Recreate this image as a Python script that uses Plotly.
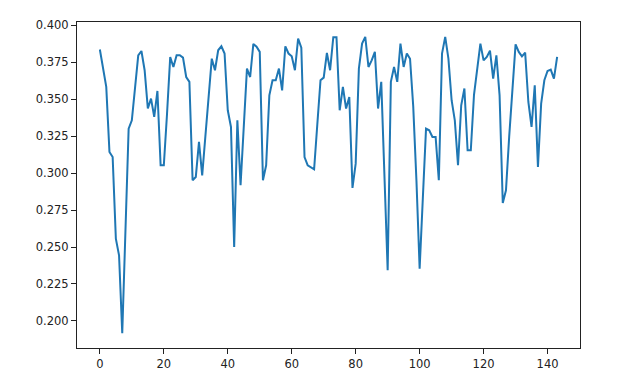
import plotly.graph_objects as go

values = [
    0.3836, 0.371, 0.3583, 0.3143, 0.3109, 0.2557, 0.2444, 0.1917, 0.262, 0.3301,
    0.3357, 0.3606, 0.3797, 0.3826, 0.3696, 0.3437, 0.3504, 0.3380, 0.3556, 0.3053,
    0.3053, 0.340, 0.3785, 0.3718, 0.3797, 0.3797, 0.3781, 0.3650, 0.3617, 0.2952,
    0.2974, 0.3211, 0.2985, 0.325, 0.351, 0.3774, 0.3696, 0.3831, 0.3858, 0.3809,
    0.3425, 0.3312, 0.2500, 0.3357, 0.2918, 0.331, 0.3707, 0.3650, 0.3874, 0.3855,
    0.3820, 0.2951, 0.3053, 0.3526, 0.3628, 0.3628, 0.3707, 0.3560, 0.3858, 0.3809,
    0.3790, 0.3696, 0.3910, 0.3849, 0.3109, 0.3053, 0.3042, 0.3026, 0.333, 0.3628,
    0.3646, 0.3813, 0.3696, 0.3919, 0.3919, 0.3425, 0.3583, 0.3437, 0.3515, 0.290,
    0.3064, 0.3707, 0.3876, 0.3922, 0.3718, 0.3763, 0.3820, 0.3437, 0.3617, 0.298,
    0.2343, 0.3617, 0.3718, 0.3617, 0.3876, 0.3718, 0.3809, 0.3774, 0.345, 0.295,
    0.2354, 0.283, 0.3301, 0.3290, 0.3245, 0.3245, 0.2952, 0.3809, 0.3922, 0.3774,
    0.3493, 0.3357, 0.3053, 0.3459, 0.3572, 0.3155, 0.3155, 0.353, 0.3718, 0.3876,
    0.3763, 0.3786, 0.3828, 0.3639, 0.3797, 0.3526, 0.2798, 0.2884, 0.3245, 0.3583,
    0.3871, 0.3820, 0.3790, 0.3815, 0.3481, 0.3312, 0.3594, 0.3042, 0.3470, 0.3628,
    0.3691, 0.3700, 0.3639, 0.3786,
]
index = list(range(len(values)))

x_ticks = [0, 20, 40, 60, 80, 100, 120, 140]
y_ticks = [0.200, 0.225, 0.250, 0.275, 0.300, 0.325, 0.350, 0.375, 0.400]

# matplotlib-like autoscale with 5% margins
n_max = index[-1]
xr = [-0.05 * n_max, 1.05 * n_max]
vmin, vmax = min(values), max(values)
span = vmax - vmin
yr = [vmin - 0.05 * span, vmax + 0.05 * span]

fig = go.Figure()
fig.add_trace(go.Scatter(
    x=index, y=values, mode="lines",
    line=dict(color="#1f77b4", width=2),
    hoverinfo="skip",
))

axis_common = dict(
    showline=True, linecolor="#222222", linewidth=1, mirror=True,
    ticks="outside", ticklen=5, tickwidth=1, tickcolor="#222222",
    showgrid=False, zeroline=False,
    tickfont=dict(family="DejaVu Sans", size=11.5, color="#222222"),
)

fig.update_layout(
    width=619, height=386,
    margin=dict(l=77, r=39, t=22, b=38),
    paper_bgcolor="white", plot_bgcolor="white",
    showlegend=False,
    xaxis=dict(range=xr, tickvals=x_ticks,
               ticktext=[str(t) for t in x_ticks], **axis_common),
    yaxis=dict(range=yr, tickvals=y_ticks,
               ticktext=[f"{t:.3f}" for t in y_ticks], **axis_common),
)

fig.write_html("out.html")
